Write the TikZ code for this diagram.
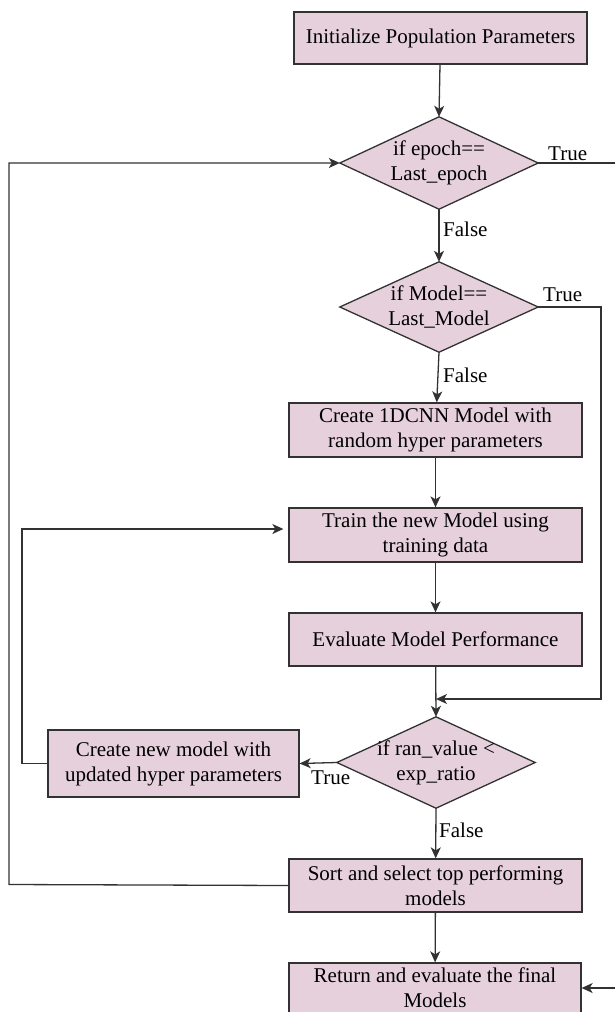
\documentclass[tikz,border=0pt]{standalone}
\usepackage{fontspec}
\setmainfont{Liberation Serif}
\usetikzlibrary{shapes.geometric,arrows.meta}
\definecolor{boxfill}{RGB}{230,208,220}
\definecolor{edge}{RGB}{50,50,50}
\begin{document}
\begin{tikzpicture}[x=1pt,y=-1pt,
  every node/.style={font=\fontsize{21}{25}\selectfont},
  proc/.style={draw=edge,line width=1.3pt,fill=boxfill,rectangle,align=center,inner sep=2pt},
  link/.style={draw=edge,line width=1.3pt,-{Stealth[length=11pt,width=10pt,inset=3pt]}},
  lbl/.style={anchor=west,inner sep=0pt}]
\useasboundingbox (0,0) rectangle (615,1012);
\clip (0,0) rectangle (615,1012);

% process boxes
\node[proc,minimum width=293pt,minimum height=52pt] (init) at (440.5,38) {Initialize Population Parameters};
\node[proc,minimum width=293pt,minimum height=54pt] (cnn) at (435.5,430) {Create 1DCNN Model with\\random hyper parameters};
\node[proc,minimum width=293pt,minimum height=54pt] (train) at (435.5,535) {Train the new Model using\\training data};
\node[proc,minimum width=293pt,minimum height=53pt] (eval) at (435.5,639.5) {Evaluate Model Performance};
\node[proc,minimum width=251pt,minimum height=67pt] (newm) at (173.5,763.5) {Create new model with\\updated hyper parameters};
\node[proc,minimum width=293pt,minimum height=53pt] (sort) at (435.5,885.5) {Sort and select top performing\\models};
\node[proc,minimum width=292pt,minimum height=50pt] (ret) at (435,988) {Return and evaluate the final\\Models};

% decisions: diamond outlines spanned over fixed-size anchor nodes
\node[inner sep=0pt,minimum width=198pt,minimum height=92pt] (d1) at (439,163) {};
\node[inner sep=0pt,minimum width=198pt,minimum height=90pt] (d2) at (439,307) {};
\node[inner sep=0pt,minimum width=198pt,minimum height=91pt] (d3) at (436,762.5) {};
\foreach \d in {d1,d2,d3}{
  \filldraw[draw=edge,fill=boxfill,line width=1.3pt]
    (\d.north) -- (\d.east) -- (\d.south) -- (\d.west) -- cycle;
}
\node[align=center] (t1) at (d1) {if epoch==\\Last\_epoch};
\node[align=center] (t2) at (d2) {if Model==\\Last\_Model};
\node[align=center] (t3) at (d3) {if ran\_value <\\exp\_ratio};

% branch labels
\node[lbl] (l1t) at (548,154) {True};
\node[lbl] (l1f) at (443,229) {False};
\node[lbl] (l2t) at (543,295) {True};
\node[lbl] (l2f) at (443,375) {False};
\node[lbl] (l3t) at (311,778) {True};
\node[lbl] (l3f) at (439,830) {False};

% helper points for routed connectors
\coordinate (m) at (436,699);
\coordinate (r2) at (601,307);
\coordinate (r1) at (625,163);
\coordinate (lp) at (22,763.5);
\coordinate (lo) at (9,884.5);

% main flow
\draw[link] (init) -- (d1.north);
\draw[link] (d1.south) -- (d2.north);
\draw[link] (d2.south) -- (cnn);
\draw[link] (cnn) -- (train);
\draw[link] (train) -- (eval);
\draw[link] (eval) -- (d3.north);
\draw[link] (d3.south) -- (sort);
\draw[link] (sort) -- (ret);

% loop-backs and exits
\draw[link] (d2.east) -- (r2) |- (m);
\draw[link] (d3.west) -- (newm.east);
\draw[link] (newm.west) -- (lp) |- ([xshift=-5pt,yshift=6pt]train.west);
\draw[link] (sort.west) -- (lo) |- (d1.west);
\draw[link] (d1.east) -- (r1) |- (ret.east);
\end{tikzpicture}
\end{document}
